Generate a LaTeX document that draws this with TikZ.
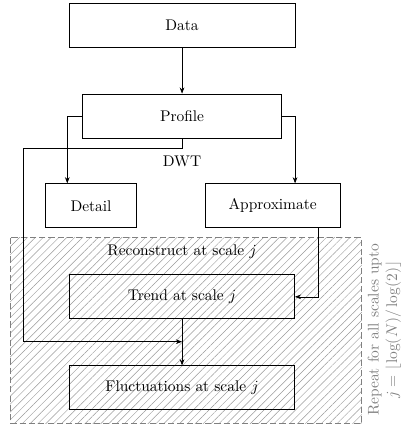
\documentclass[tikz,border=0pt]{standalone}
\usetikzlibrary{patterns.meta,arrows.meta}
\begin{document}
\begin{tikzpicture}[box style/.style={draw, semithick, rectangle, minimum height=1cm, align=center}, >={Stealth[length=4pt,width=3pt]}]
	\useasboundingbox (-4.14,0.57) rectangle (5.02,-9.39);
	\draw[gray, semithick, dash pattern=on 4pt off 2pt, pattern={Lines[angle=45,distance=3.6pt,line width=0.3pt]}, pattern color=gray!80] (-3.91,-4.84) rectangle (4.09,-9.05);
	\node[box style, minimum width=5.14cm] (B1) at (0, 0) {Data};
	\node[box style, minimum width=4.52cm] (B2) at (0, -2.07) {Profile};
	\node[box style, minimum width=2.05cm] (B3) at (-2.07, -4.11) {Detail};
	\node[box style, minimum width=3.07cm] (B4) at (2.06, -4.11) {Approximate};
	\node[box style, minimum width=5.11cm] (B5) at (0, -6.18) {Trend at scale $j$};
	\node[box style, minimum width=5.11cm] (B6) at (0, -8.25) {Fluctuations at scale $j$};
	\node (T1) at (0, -3.11) {DWT};
	\node (T2) at (0, -5.16) {Reconstruct at scale $j$};
	\node[rotate=90, gray, align=center] (T3) at (4.6, -6.93) {Repeat for all scales upto\\ $j = \lfloor\log(N)/\log(2)\rfloor$};
	\coordinate (L1) at (-3.61, -2.80);
	\coordinate (M) at (0, -7.20);
	\draw[->] (B1) -- (B2);
	\draw[->] (B2.west) -| ([xshift=-0.54cm]B3.north);
	\draw[->] (B2.east) -| ([xshift=0.51cm]B4.north);
	\draw[->] (B2.south) |- (L1) |- (M);
	\draw[->] ([xshift=1.03cm]B4.south) |- (B5.east);
	\draw[->] (B5) -- (B6);
\end{tikzpicture}
\end{document}
